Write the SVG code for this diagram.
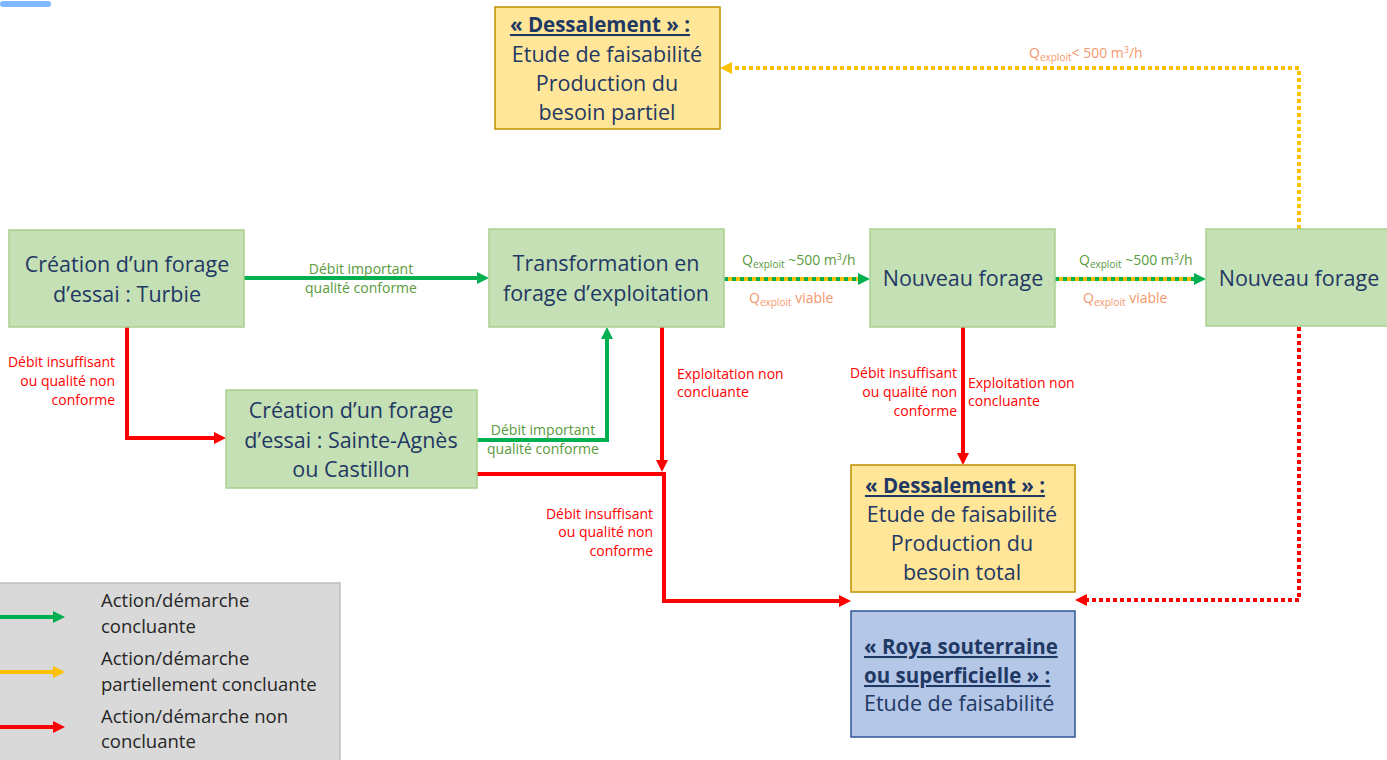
<svg xmlns="http://www.w3.org/2000/svg" width="1387" height="760" viewBox="0 0 1387 760">
  <style>
    .node-green { fill: #c5e0b4; stroke: #a9d18e; stroke-width: 1.5; }
    .node-yellow { fill: #ffe699; stroke: #bf9000; stroke-width: 1.5; }
    .node-blue { fill: #b4c7e7; stroke: #2f5597; stroke-width: 1.5; }
    .ntxt { font-family: "Open Sans", "Liberation Sans", sans-serif; font-size: 21.5px; fill: #1f3864; }
    .title { font-weight: bold; text-decoration: underline; font-size: 20.5px; }
    .lbl { font-family: "Open Sans", "Liberation Sans", sans-serif; font-size: 14px; }
    .lg { fill: #5a9a3c; }
    .lr { fill: #ff0000; }
    .lo { fill: #f4976c; }
    .solid-green { fill: none; stroke: #00b050; stroke-width: 4; }
    .solid-red { fill: none; stroke: #ff0000; stroke-width: 4; }
    .dot-yellow { fill: none; stroke: #ffc000; stroke-width: 4; stroke-dasharray: 4 3; }
    .dot-red { fill: none; stroke: #ff0000; stroke-width: 4; stroke-dasharray: 4 3; }
    .under-yellow { fill: none; stroke: #ffc000; stroke-width: 4; }
    .over-green { fill: none; stroke: #00b050; stroke-width: 4; stroke-dasharray: 4 4; }
    .legtxt { font-family: "Open Sans", "Liberation Sans", sans-serif; font-size: 18.5px; fill: #262626; }
  </style>
  <defs>
    <marker id="ah-green" viewBox="0 0 12 12" refX="1" refY="6" markerWidth="12" markerHeight="12" markerUnits="userSpaceOnUse" orient="auto">
      <path d="M0,0 L12,6 L0,12 z" fill="#00b050"/>
    </marker>
    <marker id="ah-red" viewBox="0 0 12 12" refX="1" refY="6" markerWidth="12" markerHeight="12" markerUnits="userSpaceOnUse" orient="auto">
      <path d="M0,0 L12,6 L0,12 z" fill="#ff0000"/>
    </marker>
    <marker id="ah-yellow" viewBox="0 0 12 12" refX="1" refY="6" markerWidth="12" markerHeight="12" markerUnits="userSpaceOnUse" orient="auto">
      <path d="M0,0 L12,6 L0,12 z" fill="#ffc000"/>
    </marker>
  </defs>

  <rect width="1387" height="760" fill="#ffffff"/>
  <!-- small tab at the top left -->
  <rect x="0" y="1" width="51" height="6" rx="3" fill="#7fb8ff"/>

  <!-- connectors -->
  <g id="connectors">
    <!-- Turbie -> Transformation -->
    <path class="solid-green" d="M244,278 H478" marker-end="url(#ah-green)"/>
    <!-- Turbie -> Sainte-Agnès -->
    <path class="solid-red" d="M127,327 V438 H215" marker-end="url(#ah-red)"/>
    <!-- Sainte-Agnès -> Transformation -->
    <path class="solid-green" d="M477,440 H607 V338" marker-end="url(#ah-green)"/>
    <!-- Transformation down -->
    <path class="solid-red" d="M662,327 V461" marker-end="url(#ah-red)"/>
    <!-- Sainte-Agnès -> Roya -->
    <path class="solid-red" d="M477,474 H664 V601 H840" marker-end="url(#ah-red)"/>
    <!-- Transformation -> Nouveau forage -->
    <path class="under-yellow" d="M724,279 H859"/>
    <path class="over-green" d="M724,279 H859" marker-end="url(#ah-green)"/>
    <!-- Nouveau forage -> Nouveau forage -->
    <path class="under-yellow" d="M1055,279 H1195"/>
    <path class="over-green" d="M1055,279 H1195" marker-end="url(#ah-green)"/>
    <!-- Nouveau forage -> Dessalement total -->
    <path class="solid-red" d="M963,327 V454" marker-end="url(#ah-red)"/>
    <!-- Nouveau forage -> Dessalement partiel -->
    <path class="dot-yellow" d="M1299,229 V68 H731" marker-end="url(#ah-yellow)"/>
    <!-- Nouveau forage -> Roya -->
    <path class="dot-red" d="M1299,327 V600 H1086" marker-end="url(#ah-red)"/>
  </g>

  <!-- connector labels -->
  <g id="labels" class="lbl">
    <text class="lg" text-anchor="middle"><tspan x="361" y="274">Débit important</tspan><tspan x="361" y="293">qualité conforme</tspan></text>
    <text class="lr" text-anchor="end"><tspan x="115" y="367">Débit insuffisant</tspan><tspan x="115" y="386">ou qualité non</tspan><tspan x="115" y="405">conforme</tspan></text>
    <text class="lg" text-anchor="middle"><tspan x="543" y="435">Débit important</tspan><tspan x="543" y="454">qualité conforme</tspan></text>
    <text class="lr"><tspan x="677" y="379">Exploitation non</tspan><tspan x="677" y="397">concluante</tspan></text>
    <text class="lr" text-anchor="end"><tspan x="653" y="519">Débit insuffisant</tspan><tspan x="653" y="537">ou qualité non</tspan><tspan x="653" y="556">conforme</tspan></text>
    <text class="lr" text-anchor="end"><tspan x="957" y="378">Débit insuffisant</tspan><tspan x="957" y="397">ou qualité non</tspan><tspan x="957" y="416">conforme</tspan></text>
    <text class="lr"><tspan x="968" y="388">Exploitation non</tspan><tspan x="968" y="406">concluante</tspan></text>

    <text class="lg" x="742" y="265">Q<tspan font-size="10" dy="3">exploit</tspan><tspan dy="-3"> ~500 m</tspan><tspan font-size="9" dy="-5">3</tspan><tspan dy="5">/h</tspan></text>
    <text class="lo" x="749" y="303">Q<tspan font-size="10" dy="3">exploit</tspan><tspan dy="-3"> viable</tspan></text>
    <text class="lg" x="1079" y="265">Q<tspan font-size="10" dy="3">exploit</tspan><tspan dy="-3"> ~500 m</tspan><tspan font-size="9" dy="-5">3</tspan><tspan dy="5">/h</tspan></text>
    <text class="lo" x="1083" y="303">Q<tspan font-size="10" dy="3">exploit</tspan><tspan dy="-3"> viable</tspan></text>
    <text class="lo" x="1029" y="58">Q<tspan font-size="10" dy="3">exploit</tspan><tspan dy="-3">&lt; 500 m</tspan><tspan font-size="9" dy="-5">3</tspan><tspan dy="5">/h</tspan></text>
  </g>

  <!-- nodes -->
  <g id="turbie">
    <rect class="node-green" x="9" y="230" width="235" height="97"/>
    <text class="ntxt" text-anchor="middle"><tspan x="127" y="272">Création d’un forage</tspan><tspan x="127" y="302">d’essai : Turbie</tspan></text>
  </g>
  <g id="transformation">
    <rect class="node-green" x="489" y="229" width="235" height="98"/>
    <text class="ntxt" text-anchor="middle"><tspan x="606" y="271">Transformation en</tspan><tspan x="606" y="301">forage d’exploitation</tspan></text>
  </g>
  <g id="nouveau-forage-1">
    <rect class="node-green" x="870" y="229" width="185" height="98"/>
    <text class="ntxt" text-anchor="middle" x="963" y="286">Nouveau forage</text>
  </g>
  <g id="nouveau-forage-2">
    <rect class="node-green" x="1206" y="229" width="190" height="97"/>
    <text class="ntxt" text-anchor="middle" x="1299" y="286">Nouveau forage</text>
  </g>
  <g id="sainte-agnes">
    <rect class="node-green" x="226" y="390" width="251" height="98"/>
    <text class="ntxt" text-anchor="middle"><tspan x="351" y="418">Création d’un forage</tspan><tspan x="351" y="448">d’essai : Sainte-Agnès</tspan><tspan x="351" y="477">ou Castillon</tspan></text>
  </g>
  <g id="dessalement-partiel">
    <rect class="node-yellow" x="495" y="7" width="225" height="122"/>
    <text class="ntxt" text-anchor="middle"><tspan class="title" x="600" y="32">« Dessalement » :</tspan><tspan x="607" y="62">Etude de faisabilité</tspan><tspan x="607" y="91">Production du</tspan><tspan x="607" y="120">besoin partiel</tspan></text>
  </g>
  <g id="dessalement-total">
    <rect class="node-yellow" x="851" y="465" width="224" height="127"/>
    <text class="ntxt" text-anchor="middle"><tspan class="title" x="955" y="493">« Dessalement » :</tspan><tspan x="962" y="522">Etude de faisabilité</tspan><tspan x="962" y="551">Production du</tspan><tspan x="962" y="580">besoin total</tspan></text>
  </g>
  <g id="roya">
    <rect class="node-blue" x="851" y="611" width="224" height="126"/>
    <text class="ntxt"><tspan class="title" x="864" y="654">« Roya souterraine</tspan><tspan class="title" x="864" y="683">ou superficielle » :</tspan><tspan x="864" y="711">Etude de faisabilité</tspan></text>
  </g>

  <!-- legend -->
  <g id="legend">
    <rect x="-2" y="583" width="342" height="180" fill="#d9d9d9" stroke="#bfbfbf" stroke-width="1.5"/>
    <path class="solid-green" d="M0,617 H54" marker-end="url(#ah-green)"/>
    <path fill="none" stroke="#ffc000" stroke-width="4" d="M0,672 H54" marker-end="url(#ah-yellow)"/>
    <path class="solid-red" d="M0,727 H54" marker-end="url(#ah-red)"/>
    <text class="legtxt"><tspan x="101" y="607">Action/démarche</tspan><tspan x="101" y="633">concluante</tspan></text>
    <text class="legtxt"><tspan x="101" y="665">Action/démarche</tspan><tspan x="101" y="691">partiellement concluante</tspan></text>
    <text class="legtxt"><tspan x="101" y="723">Action/démarche non</tspan><tspan x="101" y="748">concluante</tspan></text>
  </g>
</svg>
